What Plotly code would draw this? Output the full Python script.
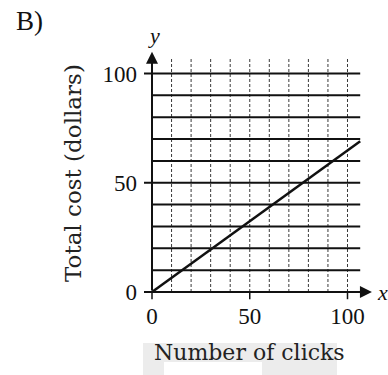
import plotly.graph_objects as go

# Cost line: total cost (dollars) vs number of clicks
clicks = [0, 106.5]
total_cost = [0, 69]

# Axis ticks and grid
tick_vals = [0, 50, 100]
tick_text = ["0", "50", "100"]
grid_step = 10
grid_max_x = 100
grid_max_y = 100
line_extent_x = 106.5   # right end of horizontal rules
line_extent_y = 107     # top end of vertical rules

# pixel scale of the plot
PX_X = 1.955
PX_Y = 2.185
W, H = 388, 375
L, R, T, B = 144, 6, 40, 75
x0_px, y0_px = 152, 292

x_range = [(L - x0_px) / PX_X, (W - R - x0_px) / PX_X]
y_range = [-(H - B - y0_px) / PX_Y, (y0_px - T) / PX_Y]

serif = "Liberation Serif"
wide_serif = "DejaVu Serif"


def px_to_paper_x(px):
    return (px - L) / (W - L - R)


def px_to_paper_y(py):
    return (H - B - py) / (H - T - B)


fig = go.Figure()

shapes = []
# vertical dashed rules
for gx in range(grid_step, grid_max_x + 1, grid_step):
    shapes.append(dict(type="line", xref="x", yref="y", x0=gx, x1=gx, y0=0, y1=line_extent_y,
                       line=dict(color="#3a3a3a", width=1, dash="3px,2px"), layer="below"))
# horizontal solid rules
for gy in range(grid_step, grid_max_y + 1, grid_step):
    shapes.append(dict(type="line", xref="x", yref="y", x0=0, x1=line_extent_x, y0=gy, y1=gy,
                       line=dict(color="#111111", width=2), layer="below"))
# tick marks on both axes
for tv in tick_vals:
    shapes.append(dict(type="line", xref="x", yref="y", x0=-4.6, x1=0, y0=tv, y1=tv,
                       line=dict(color="#111111", width=2)))
    shapes.append(dict(type="line", xref="x", yref="y", x0=tv, x1=tv, y0=-3.3, y1=0,
                       line=dict(color="#111111", width=1.5)))

# soft grey patch behind the x-axis title
shapes.append(dict(type="rect", xref="paper", yref="paper",
                   x0=px_to_paper_x(143), x1=px_to_paper_x(337),
                   y0=px_to_paper_y(375), y1=px_to_paper_y(343),
                   fillcolor="#ececec", line=dict(width=0), layer="below"))
shapes.append(dict(type="rect", xref="paper", yref="paper",
                   x0=px_to_paper_x(164), x1=px_to_paper_x(262),
                   y0=px_to_paper_y(375), y1=px_to_paper_y(362),
                   fillcolor="white", line=dict(width=0), layer="below"))

fig.add_trace(go.Scatter(x=clicks, y=total_cost, mode="lines",
                         line=dict(color="#111111", width=2.5),
                         showlegend=False, hoverinfo="skip"))

annotations = [
    # y axis with arrow
    dict(x=0, y=110, ax=0, ay=0, xref="x", yref="y", axref="x", ayref="y",
         showarrow=True, arrowhead=2, arrowsize=1.2, arrowwidth=2, arrowcolor="#111111", text=""),
    # x axis with arrow
    dict(x=112.5, y=0, ax=-4.6, ay=0, xref="x", yref="y", axref="x", ayref="y",
         showarrow=True, arrowhead=2, arrowsize=1.2, arrowwidth=2, arrowcolor="#111111", text=""),
    dict(x=px_to_paper_x(154), y=px_to_paper_y(35), xref="paper", yref="paper",
         text="<i>y</i>", showarrow=False, xanchor="center", yanchor="middle",
         font=dict(family=serif, size=22, color="#111111")),
    dict(x=px_to_paper_x(375), y=px_to_paper_y(292), xref="paper", yref="paper",
         text="<i>x</i>", showarrow=False, xanchor="left", yanchor="middle",
         font=dict(family=serif, size=22, color="#111111")),
    dict(x=px_to_paper_x(73), y=px_to_paper_y(173), xref="paper", yref="paper",
         text="Total cost (dollars)", textangle=-90, showarrow=False,
         xanchor="center", yanchor="middle",
         font=dict(family=wide_serif, size=23, color="#222222")),
    dict(x=px_to_paper_x(249), y=px_to_paper_y(352), xref="paper", yref="paper",
         text="Number of clicks", showarrow=False, xanchor="center", yanchor="middle",
         font=dict(family=wide_serif, size=22, color="#222222")),
    dict(x=px_to_paper_x(14), y=px_to_paper_y(21), xref="paper", yref="paper",
         text="B)", showarrow=False, xanchor="left", yanchor="middle",
         font=dict(family=serif, size=27, color="#111111")),
]

fig.update_layout(
    width=W, height=H,
    margin=dict(l=L, r=R, t=T, b=B, pad=0),
    paper_bgcolor="white", plot_bgcolor="white",
    shapes=shapes, annotations=annotations,
    xaxis=dict(range=x_range, tickvals=tick_vals, ticktext=tick_text, showgrid=False,
               zeroline=False, showline=False, ticks="", ticklabelstandoff=0,
               tickfont=dict(family=serif, size=23, color="#111111"), fixedrange=True),
    yaxis=dict(range=y_range, tickvals=tick_vals, ticktext=tick_text, showgrid=False,
               zeroline=False, showline=False, ticks="", ticklabelstandoff=6,
               tickfont=dict(family=serif, size=23, color="#111111"), fixedrange=True),
)

fig.write_html("out.html")
